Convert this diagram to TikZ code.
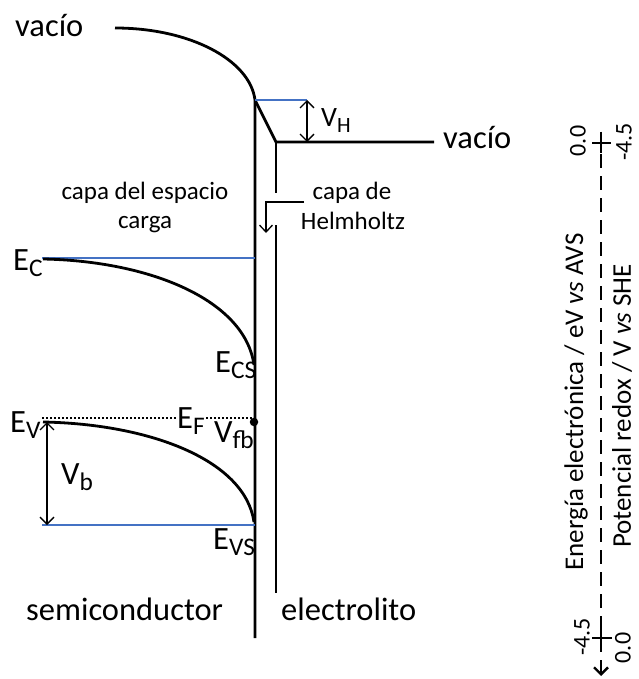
\documentclass[tikz,border=0pt]{standalone}
\usepackage{fontspec}
\setmainfont{Carlito}
\usepackage{graphicx}
\usetikzlibrary{arrows.meta}
\definecolor{lvlblue}{RGB}{68,114,196}
\newcommand\subsc[1]{\raisebox{-0.2em}{\scalebox{0.78}{#1}}}
\begin{document}
\begin{tikzpicture}[x=1pt,y=-1pt,
  band/.style={line width=2.8pt},
  lvl/.style={draw=lvlblue, line width=1.5pt},
  thinarr/.style={line width=1.3pt},
  dbl/.style={thinarr, {Straight Barb[length=7pt,width=14pt]}-{Straight Barb[length=7pt,width=14pt]}},
  onearr/.style={thinarr, -{Straight Barb[length=7pt,width=13pt]}},
  dots/.style={line width=1.8pt, dash pattern=on 1.8pt off 2.2pt},
  axisline/.style={line width=2.4pt},
  big/.style={font=\fontsize{32.5}{38}\selectfont, inner sep=0pt},
  mid/.style={font=\fontsize{25}{30}\selectfont, inner sep=0pt},
  axlab/.style={font=\fontsize{27}{32}\selectfont, inner sep=0pt, rotate=90},
  ticklab/.style={font=\fontsize{24}{28}\selectfont, inner sep=0pt, rotate=90}
]
\path[use as bounding box] (0,0) rectangle (638,679);

% key points
\coordinate (vacL) at (115,28);
\coordinate (sTop) at (255,100);
\coordinate (sBot) at (255,638);
\coordinate (hTop) at (276,142);
\coordinate (hGapA) at (276,193);
\coordinate (hGapB) at (276,225);
\coordinate (hBot) at (276,593);
\coordinate (vacREnd) at (434,142);
\coordinate (vhTop) at (307,100);
\coordinate (vhBot) at (307,142);

% interfaces and vacuum levels
\draw[band] (vacL) .. controls (190,28) and (250,60) .. (sTop) -- (sBot);
\draw[band, line join=miter] (sTop) -- (hTop) -- (vacREnd);
\draw[band] (hTop) -- (hGapA);
\draw[band] (hGapB) -- (hBot);
\draw[lvl] (sTop) -- (vhTop);
\draw[dbl] (vhTop) -- (vhBot);

\node[big, anchor=base west] (vacioL) at (15,37) {vacío};
\node[big, anchor=base west] (vacioR) at (443,149) {vacío};
\node[font=\fontsize{28}{32}\selectfont, inner sep=0pt, anchor=base west] (VH) at (321,127) {V\subsc{H}};

% Helmholtz label and arrow
\node[mid, anchor=base] (helmA) at (352,199) {capa de};
\node[mid, anchor=base] (helmB) at (353,229) {Helmholtz};
\coordinate (hlStart) at (304,202);
\coordinate (hlCorner) at (266,202);
\coordinate (hlTip) at (266,233);
\draw[onearr] (hlStart) -- (hlCorner) -- (hlTip);

% space charge label
\node[mid, anchor=base] (capaA) at (145,199) {capa del espacio};
\node[mid, anchor=base] (capaB) at (145,228) {carga};

% conduction band
\coordinate (ecL) at (42,258);
\coordinate (ecR) at (255,258);
\coordinate (ecStart) at (43,259);
\coordinate (ecsEnd) at (254,365);
\draw[lvl] (ecL) -- (ecR);
\draw[band] (ecStart) .. controls (150,261) and (245,300) .. (ecsEnd);
\node[big, anchor=base west] (EC) at (13,270) {E\subsc{C}};
\node[big, anchor=base west] (ECS) at (215,372) {E\subsc{CS}};

% Fermi level
\coordinate (efL) at (42,418);
\coordinate (efR) at (255,418);
\draw[dots] (efL) -- (efR);
\node[circle, fill=black, inner sep=0pt, minimum size=8.5pt] (fbdot) at (254,422) {};
\node[big, anchor=base west, fill=white, inner sep=1pt] (EF) at (176,428) {E\subsc{F}};
\node[big, anchor=base west] (Vfb) at (214,442) {V\subsc{fb}};

% valence band
\coordinate (evStart) at (43,422);
\coordinate (evsEnd) at (254,522);
\coordinate (evsL) at (42,525);
\coordinate (evsR) at (255,525);
\draw[band] (evStart) .. controls (150,424) and (245,460) .. (evsEnd);
\draw[lvl] (evsL) -- (evsR);
\coordinate (vbTop) at (47,422);
\coordinate (vbBot) at (47,525);
\draw[dbl] (vbTop) -- (vbBot);
\node[big, anchor=base west] (EV) at (10,432) {E\subsc{V}};
\node[big, anchor=base west] (Vb) at (61,484) {V\subsc{b}};
\node[big, anchor=base west] (EVS) at (213,549) {E\subsc{VS}};

\node[big, anchor=base west] (semi) at (26,620) {semiconductor};
\node[big, anchor=base west] (elec) at (281,620) {electrolito};

% energy / potential axis
\coordinate (axTop) at (601,132);
\coordinate (axTopS) at (601,153);
\coordinate (axBotS) at (601,628);
\coordinate (axBotE) at (601,648);
\coordinate (axTip) at (601,676);
\coordinate (tkTL) at (592,143);
\coordinate (tkTR) at (611,143);
\coordinate (tkBL) at (592,638);
\coordinate (tkBR) at (612,638);
\draw[axisline, dash pattern=on 14pt off 8pt, -{Straight Barb[length=7pt,width=14pt]}] (axTop) -- (axTip);
\draw[axisline] (axTop) -- (axTopS);
\draw[axisline] (axBotS) -- (axBotE);
\draw[axisline] (tkTL) -- (tkTR);
\draw[axisline] (tkBL) -- (tkBR);
\node[ticklab] (zeroT) at (578,141) {0.0};
\node[ticklab] (negT) at (624,142) {-4.5};
\node[ticklab] (negB) at (582,637) {-4.5};
\node[ticklab] (zeroB) at (623,648) {0.0};
\node[axlab] (eAxis) at (576,402) {Energía electrónica / eV \textit{vs} AVS};
\node[axlab] (pAxis) at (622,406) {Potencial redox / V \textit{vs} SHE};
\end{tikzpicture}
\end{document}
